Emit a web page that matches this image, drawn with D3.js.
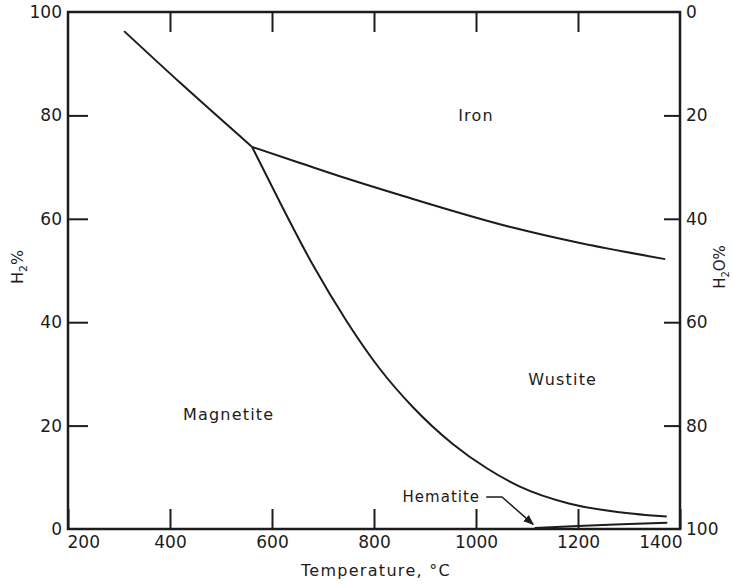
<!DOCTYPE html>
<html>
<head>
<meta charset="utf-8">
<script src="https://cdn.jsdelivr.net/npm/d3@7"></script>
<style>
  body { margin: 0; background: #fff; }
  svg text { font-family: "DejaVu Sans", sans-serif; fill: #1c1c1c; }
</style>
</head>
<body>
<svg width="733" height="585"></svg>
<script>
// phase boundaries, [temperature °C, H2 %]
const ironMagnetite = [[310, 96.3], [420, 86.3], [561, 73.9]];
const ironWustite = [[561, 73.9], [655, 70.8], [753, 67.6], [851, 64.6], [1072, 58.3], [1204, 55.3], [1371, 52.2]];
const wustiteMagnetite = [[561, 73.9], [616, 63.1], [680, 51.1], [747, 40.1], [812, 30.9], [876, 23.6], [955, 16.4], [1022, 11.7], [1086, 8.2], [1184, 4.9], [1282, 3.25], [1374, 2.4]];
const magnetiteHematite = [[1115, 0.2], [1200, 0.6], [1300, 0.95], [1375, 1.2]];

const tempTicks = [200, 400, 600, 800, 1000, 1200, 1400];
const h2Ticks = [0, 20, 40, 60, 80, 100];
const h2oTicks = [0, 20, 40, 60, 80, 100];

const regionLabels = [
    { name: "Iron", t: 1000, h: 80 },
    { name: "Wustite", t: 1170, h: 29 },
    { name: "Magnetite", t: 515, h: 22.2 }
];

const svg = d3.select("svg");

const x = d3.scaleLinear().domain([200, 1400]).range([68, 680]);
const y = d3.scaleLinear().domain([0, 100]).range([529, 12]);
const yR = d3.scaleLinear().domain([0, 100]).range([12, 529]);  // H2O % = 100 - H2 %

// 坐标轴
const axisStyle = g => {
    g.select(".domain").remove();
    g.selectAll(".tick line").attr("stroke", "#1c1c1c").attr("stroke-width", 2);
    g.selectAll(".tick text").attr("font-size", 17).attr("fill", "#1c1c1c");
};

const bottom = svg.append("g")
    .attr("transform", `translate(0,${y(0)})`)
    .call(d3.axisBottom(x).tickValues(tempTicks).tickFormat(d3.format("d")).tickSize(-20).tickSizeOuter(0).tickPadding(7))
    .call(axisStyle);
bottom.selectAll(".tick text")
    .attr("text-anchor", d => d === 200 ? "start" : d === 1400 ? "end" : "middle")
    .attr("dx", d => d === 200 ? -1 : d === 1400 ? 2 : 0);

svg.append("g")
    .attr("transform", `translate(0,${y(100)})`)
    .call(d3.axisTop(x).tickValues(tempTicks.slice(1, -1)).tickSize(-20).tickFormat(""))
    .call(axisStyle);

svg.append("g")
    .attr("transform", `translate(${x(200)},0)`)
    .call(d3.axisLeft(y).tickValues(h2Ticks).tickSize(-20).tickPadding(6))
    .call(axisStyle)
    .selectAll(".tick")
    .filter(d => d === 0 || d === 100)
    .select("line").remove();

svg.append("g")
    .attr("transform", `translate(${x(1400)},0)`)
    .call(d3.axisRight(yR).tickValues(h2oTicks).tickSize(-16).tickPadding(6))
    .call(axisStyle)
    .selectAll(".tick")
    .filter(d => d === 0 || d === 100)
    .select("line").remove();

// 边框
svg.append("rect")
    .attr("x", x(200)).attr("y", y(100))
    .attr("width", x(1400) - x(200)).attr("height", y(0) - y(100))
    .attr("fill", "none").attr("stroke", "#1c1c1c").attr("stroke-width", 2.5);

// 曲线
const line = d3.line().x(d => x(d[0])).y(d => y(d[1])).curve(d3.curveMonotoneX);
[ironMagnetite, ironWustite, wustiteMagnetite, magnetiteHematite].forEach(pts => {
    svg.append("path")
        .attr("d", line(pts))
        .attr("fill", "none")
        .attr("stroke", "#1c1c1c")
        .attr("stroke-width", 2);
});

// 区域标签
svg.selectAll(".region")
    .data(regionLabels)
    .enter()
    .append("text")
    .attr("class", "region")
    .attr("x", d => x(d.t))
    .attr("y", d => y(d.h))
    .attr("dy", "0.35em")
    .attr("text-anchor", "middle")
    .attr("font-size", 16)
    .attr("letter-spacing", 1.2)
    .text(d => d.name);

// Hematite 标注和箭头
svg.append("defs").append("marker")
    .attr("id", "arrow")
    .attr("viewBox", "0 0 10 10")
    .attr("refX", 9).attr("refY", 5)
    .attr("markerWidth", 7).attr("markerHeight", 7)
    .attr("orient", "auto")
    .append("path")
    .attr("d", "M0,1 L10,5 L0,9 Z")
    .attr("fill", "#1c1c1c");

svg.append("text")
    .attr("x", x(1008))
    .attr("y", y(6.2))
    .attr("dy", "0.35em")
    .attr("text-anchor", "end")
    .attr("font-size", 15)
    .attr("letter-spacing", 1)
    .text("Hematite");

svg.append("path")
    .attr("d", d3.line()([[x(1020), y(6.2)], [x(1051), y(6.2)], [x(1112), y(0.9)]]))
    .attr("fill", "none")
    .attr("stroke", "#1c1c1c")
    .attr("stroke-width", 1.5)
    .attr("marker-end", "url(#arrow)");

// 轴标题
svg.append("text")
    .attr("x", (x(200) + x(1400)) / 2 + 2)
    .attr("y", 570)
    .attr("dy", "0.35em")
    .attr("text-anchor", "middle")
    .attr("font-size", 16)
    .attr("letter-spacing", 1.3)
    .text("Temperature, °C");

const leftTitle = svg.append("text")
    .attr("transform", "translate(17,267) rotate(-90)")
    .attr("dy", "0.35em")
    .attr("text-anchor", "middle")
    .attr("font-size", 16);
leftTitle.append("tspan").text("H");
leftTitle.append("tspan").attr("font-size", 11).attr("dy", 4).text("2");
leftTitle.append("tspan").attr("dy", -4).text("%");

const rightTitle = svg.append("text")
    .attr("transform", "translate(720,267) rotate(-90)")
    .attr("dy", "0.35em")
    .attr("text-anchor", "middle")
    .attr("font-size", 15);
rightTitle.append("tspan").text("H");
rightTitle.append("tspan").attr("font-size", 10).attr("dy", 4).text("2");
rightTitle.append("tspan").attr("dy", -4).text("O%");
</script>
</body>
</html>
